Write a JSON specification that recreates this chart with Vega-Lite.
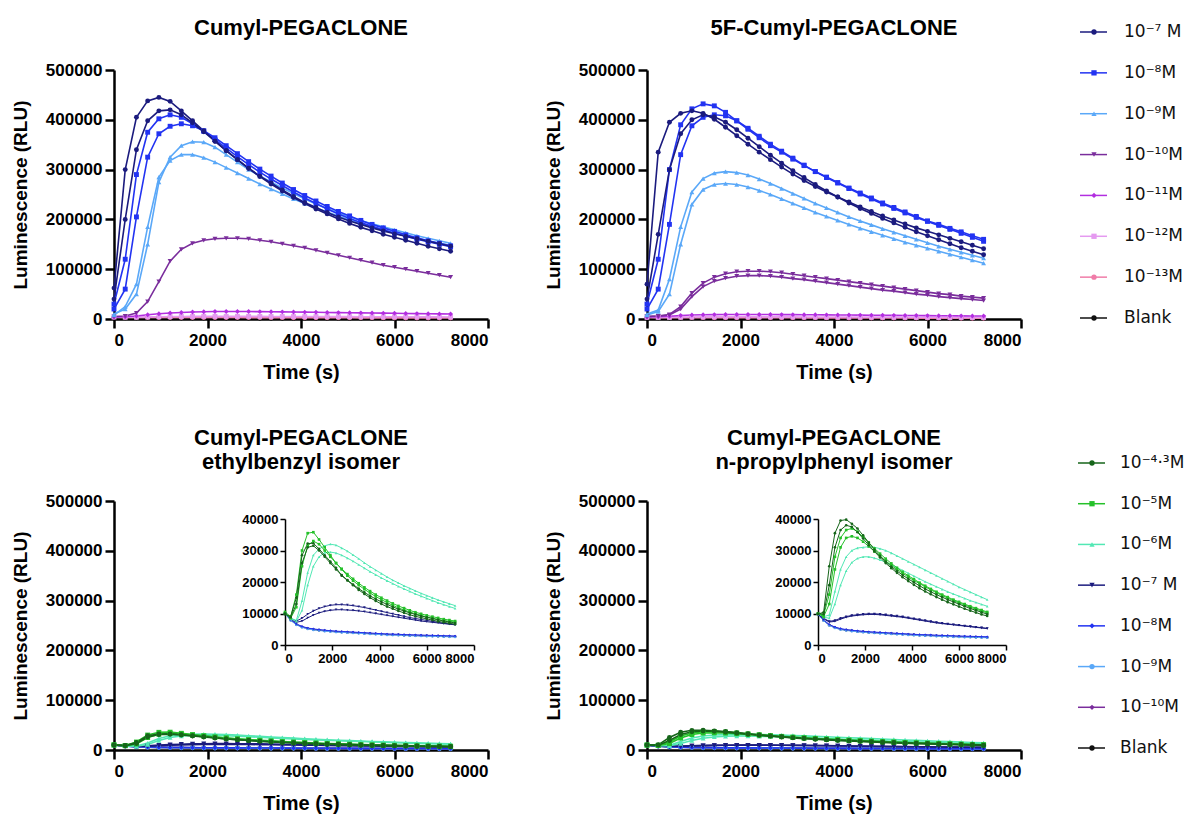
{
"$schema":"https://vega.github.io/schema/vega-lite/v6.json",
"background":"white",
"padding":{"left":11,"top":17,"right":5,"bottom":5},
"config":{
"view":{"stroke":null},
"font":"Liberation Sans",
"axis":{"grid":false,"domainColor":"#000","tickColor":"#000","labelColor":"#000","titleColor":"#000","labelFont":"Liberation Sans","titleFont":"Liberation Sans","labelFontWeight":"bold","titleFontWeight":"bold","labelFontSize":17,"titleFontSize":19,"domainWidth":2.5,"tickWidth":2.5,"tickSize":9,"labelPadding":3,"titlePadding":8},
"title":{"font":"Liberation Sans","fontSize":22,"fontWeight":"bold","color":"#000","anchor":"middle","frame":"group","offset":21,"lineHeight":24}
},
"datasets":{
"L1":[{"c":"7","o":1,"lab":"10⁻⁷ M"},{"c":"8","o":2,"lab":"10⁻⁸M"},{"c":"9","o":3,"lab":"10⁻⁹M"},{"c":"10","o":4,"lab":"10⁻¹⁰M"},{"c":"11","o":5,"lab":"10⁻¹¹M"},{"c":"12","o":6,"lab":"10⁻¹²M"},{"c":"13","o":7,"lab":"10⁻¹³M"},{"c":"0","o":8,"lab":"Blank"}],
"L2":[{"c":"4","o":1,"lab":"10⁻⁴·³M"},{"c":"5","o":2,"lab":"10⁻⁵M"},{"c":"6","o":3,"lab":"10⁻⁶M"},{"c":"7","o":4,"lab":"10⁻⁷ M"},{"c":"8","o":5,"lab":"10⁻⁸M"},{"c":"9","o":6,"lab":"10⁻⁹M"},{"c":"10","o":7,"lab":"10⁻¹⁰M"},{"c":"0","o":8,"lab":"Blank"}],
"A":[
{"c":"0","t":0,"v":3000},{"c":"0","t":240,"v":2600},{"c":"0","t":480,"v":2400},{"c":"0","t":720,"v":2300},{"c":"0","t":960,"v":2200},{"c":"0","t":1200,"v":2100},{"c":"0","t":1440,"v":2000},{"c":"0","t":1680,"v":1950},{"c":"0","t":1920,"v":1900},{"c":"0","t":2160,"v":1850},{"c":"0","t":2400,"v":1800},{"c":"0","t":2640,"v":1750},{"c":"0","t":2880,"v":1700},{"c":"0","t":3120,"v":1650},{"c":"0","t":3360,"v":1600},{"c":"0","t":3600,"v":1600},{"c":"0","t":3840,"v":1550},{"c":"0","t":4080,"v":1500},{"c":"0","t":4320,"v":1500},{"c":"0","t":4560,"v":1450},{"c":"0","t":4800,"v":1400},{"c":"0","t":5040,"v":1400},{"c":"0","t":5280,"v":1350},{"c":"0","t":5520,"v":1350},{"c":"0","t":5760,"v":1300},{"c":"0","t":6000,"v":1300},{"c":"0","t":6240,"v":1250},{"c":"0","t":6480,"v":1250},{"c":"0","t":6720,"v":1200},{"c":"0","t":6960,"v":1200},{"c":"0","t":7200,"v":1150},
{"c":"13","t":0,"v":3500},{"c":"13","t":240,"v":3200},{"c":"13","t":480,"v":3100},{"c":"13","t":720,"v":3100},{"c":"13","t":960,"v":3100},{"c":"13","t":1200,"v":3100},{"c":"13","t":1440,"v":3100},{"c":"13","t":1680,"v":3050},{"c":"13","t":1920,"v":3000},{"c":"13","t":2160,"v":3000},{"c":"13","t":2400,"v":2950},{"c":"13","t":2640,"v":2900},{"c":"13","t":2880,"v":2850},{"c":"13","t":3120,"v":2800},{"c":"13","t":3360,"v":2750},{"c":"13","t":3600,"v":2700},{"c":"13","t":3840,"v":2650},{"c":"13","t":4080,"v":2600},{"c":"13","t":4320,"v":2550},{"c":"13","t":4560,"v":2500},{"c":"13","t":4800,"v":2450},{"c":"13","t":5040,"v":2400},{"c":"13","t":5280,"v":2350},{"c":"13","t":5520,"v":2300},{"c":"13","t":5760,"v":2250},{"c":"13","t":6000,"v":2200},{"c":"13","t":6240,"v":2150},{"c":"13","t":6480,"v":2100},{"c":"13","t":6720,"v":2050},{"c":"13","t":6960,"v":2000},{"c":"13","t":7200,"v":1950},
{"c":"12","t":0,"v":4000},{"c":"12","t":240,"v":3700},{"c":"12","t":480,"v":3800},{"c":"12","t":720,"v":4200},{"c":"12","t":960,"v":4600},{"c":"12","t":1200,"v":4900},{"c":"12","t":1440,"v":5100},{"c":"12","t":1680,"v":5200},{"c":"12","t":1920,"v":5300},{"c":"12","t":2160,"v":5300},{"c":"12","t":2400,"v":5300},{"c":"12","t":2640,"v":5300},{"c":"12","t":2880,"v":5250},{"c":"12","t":3120,"v":5200},{"c":"12","t":3360,"v":5150},{"c":"12","t":3600,"v":5100},{"c":"12","t":3840,"v":5000},{"c":"12","t":4080,"v":4950},{"c":"12","t":4320,"v":4900},{"c":"12","t":4560,"v":4850},{"c":"12","t":4800,"v":4800},{"c":"12","t":5040,"v":4700},{"c":"12","t":5280,"v":4650},{"c":"12","t":5520,"v":4600},{"c":"12","t":5760,"v":4500},{"c":"12","t":6000,"v":4450},{"c":"12","t":6240,"v":4400},{"c":"12","t":6480,"v":4300},{"c":"12","t":6720,"v":4250},{"c":"12","t":6960,"v":4200},{"c":"12","t":7200,"v":4100},
{"c":"11","t":0,"v":4000},{"c":"11","t":240,"v":4500},{"c":"11","t":480,"v":6000},{"c":"11","t":720,"v":8500},{"c":"11","t":960,"v":10500},{"c":"11","t":1200,"v":12000},{"c":"11","t":1440,"v":13000},{"c":"11","t":1680,"v":14000},{"c":"11","t":1920,"v":14500},{"c":"11","t":2160,"v":15000},{"c":"11","t":2400,"v":15000},{"c":"11","t":2640,"v":15000},{"c":"11","t":2880,"v":15000},{"c":"11","t":3120,"v":14800},{"c":"11","t":3360,"v":14600},{"c":"11","t":3600,"v":14400},{"c":"11","t":3840,"v":14100},{"c":"11","t":4080,"v":13800},{"c":"11","t":4320,"v":13500},{"c":"11","t":4560,"v":13200},{"c":"11","t":4800,"v":12900},{"c":"11","t":5040,"v":12600},{"c":"11","t":5280,"v":12300},{"c":"11","t":5520,"v":12000},{"c":"11","t":5760,"v":11700},{"c":"11","t":6000,"v":11400},{"c":"11","t":6240,"v":11100},{"c":"11","t":6480,"v":10800},{"c":"11","t":6720,"v":10500},{"c":"11","t":6960,"v":10200},{"c":"11","t":7200,"v":10000},
{"c":"10","t":0,"v":5000},{"c":"10","t":240,"v":6000},{"c":"10","t":480,"v":12000},{"c":"10","t":720,"v":35000},{"c":"10","t":960,"v":75000},{"c":"10","t":1200,"v":116000},{"c":"10","t":1440,"v":140000},{"c":"10","t":1680,"v":152000},{"c":"10","t":1920,"v":158000},{"c":"10","t":2160,"v":161000},{"c":"10","t":2400,"v":162000},{"c":"10","t":2640,"v":162000},{"c":"10","t":2880,"v":161000},{"c":"10","t":3120,"v":158000},{"c":"10","t":3360,"v":155000},{"c":"10","t":3600,"v":151000},{"c":"10","t":3840,"v":147000},{"c":"10","t":4080,"v":143000},{"c":"10","t":4320,"v":138000},{"c":"10","t":4560,"v":133000},{"c":"10","t":4800,"v":128000},{"c":"10","t":5040,"v":123000},{"c":"10","t":5280,"v":118000},{"c":"10","t":5520,"v":113000},{"c":"10","t":5760,"v":108000},{"c":"10","t":6000,"v":104000},{"c":"10","t":6240,"v":100000},{"c":"10","t":6480,"v":96000},{"c":"10","t":6720,"v":92000},{"c":"10","t":6960,"v":88000},{"c":"10","t":7200,"v":84000},
{"c":"9b","t":0,"v":8000},{"c":"9b","t":240,"v":25000},{"c":"9b","t":480,"v":70000},{"c":"9b","t":720,"v":185000},{"c":"9b","t":960,"v":285000},{"c":"9b","t":1200,"v":318000},{"c":"9b","t":1440,"v":330000},{"c":"9b","t":1680,"v":330000},{"c":"9b","t":1920,"v":324000},{"c":"9b","t":2160,"v":315000},{"c":"9b","t":2400,"v":304000},{"c":"9b","t":2640,"v":293000},{"c":"9b","t":2880,"v":282000},{"c":"9b","t":3120,"v":271000},{"c":"9b","t":3360,"v":261000},{"c":"9b","t":3600,"v":251000},{"c":"9b","t":3840,"v":241000},{"c":"9b","t":4080,"v":232000},{"c":"9b","t":4320,"v":223000},{"c":"9b","t":4560,"v":215000},{"c":"9b","t":4800,"v":207000},{"c":"9b","t":5040,"v":199000},{"c":"9b","t":5280,"v":192000},{"c":"9b","t":5520,"v":185000},{"c":"9b","t":5760,"v":179000},{"c":"9b","t":6000,"v":173000},{"c":"9b","t":6240,"v":167000},{"c":"9b","t":6480,"v":162000},{"c":"9b","t":6720,"v":157000},{"c":"9b","t":6960,"v":152000},{"c":"9b","t":7200,"v":148000},
{"c":"9","t":0,"v":10000},{"c":"9","t":240,"v":20000},{"c":"9","t":480,"v":50000},{"c":"9","t":720,"v":150000},{"c":"9","t":960,"v":275000},{"c":"9","t":1200,"v":325000},{"c":"9","t":1440,"v":348000},{"c":"9","t":1680,"v":356000},{"c":"9","t":1920,"v":355000},{"c":"9","t":2160,"v":345000},{"c":"9","t":2400,"v":330000},{"c":"9","t":2640,"v":315000},{"c":"9","t":2880,"v":300000},{"c":"9","t":3120,"v":287000},{"c":"9","t":3360,"v":275000},{"c":"9","t":3600,"v":263000},{"c":"9","t":3840,"v":252000},{"c":"9","t":4080,"v":241000},{"c":"9","t":4320,"v":231000},{"c":"9","t":4560,"v":222000},{"c":"9","t":4800,"v":213000},{"c":"9","t":5040,"v":205000},{"c":"9","t":5280,"v":198000},{"c":"9","t":5520,"v":191000},{"c":"9","t":5760,"v":185000},{"c":"9","t":6000,"v":179000},{"c":"9","t":6240,"v":173000},{"c":"9","t":6480,"v":167000},{"c":"9","t":6720,"v":162000},{"c":"9","t":6960,"v":157000},{"c":"9","t":7200,"v":152000},
{"c":"8b","t":0,"v":20000},{"c":"8b","t":240,"v":60000},{"c":"8b","t":480,"v":205000},{"c":"8b","t":720,"v":325000},{"c":"8b","t":960,"v":372000},{"c":"8b","t":1200,"v":387000},{"c":"8b","t":1440,"v":392000},{"c":"8b","t":1680,"v":388000},{"c":"8b","t":1920,"v":378000},{"c":"8b","t":2160,"v":364000},{"c":"8b","t":2400,"v":348000},{"c":"8b","t":2640,"v":332000},{"c":"8b","t":2880,"v":316000},{"c":"8b","t":3120,"v":301000},{"c":"8b","t":3360,"v":287000},{"c":"8b","t":3600,"v":273000},{"c":"8b","t":3840,"v":260000},{"c":"8b","t":4080,"v":248000},{"c":"8b","t":4320,"v":237000},{"c":"8b","t":4560,"v":226000},{"c":"8b","t":4800,"v":216000},{"c":"8b","t":5040,"v":207000},{"c":"8b","t":5280,"v":198000},{"c":"8b","t":5520,"v":190000},{"c":"8b","t":5760,"v":183000},{"c":"8b","t":6000,"v":176000},{"c":"8b","t":6240,"v":169000},{"c":"8b","t":6480,"v":163000},{"c":"8b","t":6720,"v":157000},{"c":"8b","t":6960,"v":152000},{"c":"8b","t":7200,"v":147000},
{"c":"8","t":0,"v":30000},{"c":"8","t":240,"v":120000},{"c":"8","t":480,"v":290000},{"c":"8","t":720,"v":375000},{"c":"8","t":960,"v":402000},{"c":"8","t":1200,"v":410000},{"c":"8","t":1440,"v":405000},{"c":"8","t":1680,"v":392000},{"c":"8","t":1920,"v":377000},{"c":"8","t":2160,"v":360000},{"c":"8","t":2400,"v":343000},{"c":"8","t":2640,"v":326000},{"c":"8","t":2880,"v":310000},{"c":"8","t":3120,"v":295000},{"c":"8","t":3360,"v":281000},{"c":"8","t":3600,"v":268000},{"c":"8","t":3840,"v":255000},{"c":"8","t":4080,"v":243000},{"c":"8","t":4320,"v":232000},{"c":"8","t":4560,"v":221000},{"c":"8","t":4800,"v":211000},{"c":"8","t":5040,"v":202000},{"c":"8","t":5280,"v":194000},{"c":"8","t":5520,"v":186000},{"c":"8","t":5760,"v":179000},{"c":"8","t":6000,"v":172000},{"c":"8","t":6240,"v":166000},{"c":"8","t":6480,"v":160000},{"c":"8","t":6720,"v":155000},{"c":"8","t":6960,"v":150000},{"c":"8","t":7200,"v":145000},
{"c":"7b","t":0,"v":40000},{"c":"7b","t":240,"v":200000},{"c":"7b","t":480,"v":340000},{"c":"7b","t":720,"v":398000},{"c":"7b","t":960,"v":418000},{"c":"7b","t":1200,"v":420000},{"c":"7b","t":1440,"v":410000},{"c":"7b","t":1680,"v":394000},{"c":"7b","t":1920,"v":376000},{"c":"7b","t":2160,"v":357000},{"c":"7b","t":2400,"v":338000},{"c":"7b","t":2640,"v":320000},{"c":"7b","t":2880,"v":302000},{"c":"7b","t":3120,"v":286000},{"c":"7b","t":3360,"v":271000},{"c":"7b","t":3600,"v":257000},{"c":"7b","t":3840,"v":244000},{"c":"7b","t":4080,"v":232000},{"c":"7b","t":4320,"v":221000},{"c":"7b","t":4560,"v":211000},{"c":"7b","t":4800,"v":201000},{"c":"7b","t":5040,"v":192000},{"c":"7b","t":5280,"v":184000},{"c":"7b","t":5520,"v":177000},{"c":"7b","t":5760,"v":170000},{"c":"7b","t":6000,"v":164000},{"c":"7b","t":6240,"v":158000},{"c":"7b","t":6480,"v":152000},{"c":"7b","t":6720,"v":146000},{"c":"7b","t":6960,"v":141000},{"c":"7b","t":7200,"v":136000},
{"c":"7","t":0,"v":62000},{"c":"7","t":240,"v":300000},{"c":"7","t":480,"v":405000},{"c":"7","t":720,"v":438000},{"c":"7","t":960,"v":445000},{"c":"7","t":1200,"v":437000},{"c":"7","t":1440,"v":418000},{"c":"7","t":1680,"v":398000},{"c":"7","t":1920,"v":378000},{"c":"7","t":2160,"v":357000},{"c":"7","t":2400,"v":338000},{"c":"7","t":2640,"v":320000},{"c":"7","t":2880,"v":303000},{"c":"7","t":3120,"v":287000},{"c":"7","t":3360,"v":273000},{"c":"7","t":3600,"v":259000},{"c":"7","t":3840,"v":246000},{"c":"7","t":4080,"v":234000},{"c":"7","t":4320,"v":224000},{"c":"7","t":4560,"v":214000},{"c":"7","t":4800,"v":205000},{"c":"7","t":5040,"v":197000},{"c":"7","t":5280,"v":190000},{"c":"7","t":5520,"v":183000},{"c":"7","t":5760,"v":177000},{"c":"7","t":6000,"v":171000},{"c":"7","t":6240,"v":166000},{"c":"7","t":6480,"v":161000},{"c":"7","t":6720,"v":156000},{"c":"7","t":6960,"v":151000},{"c":"7","t":7200,"v":146000}
],
"B":[
{"c":"0","t":0,"v":2500},{"c":"0","t":240,"v":2200},{"c":"0","t":480,"v":2000},{"c":"0","t":720,"v":1900},{"c":"0","t":960,"v":1800},{"c":"0","t":1200,"v":1750},{"c":"0","t":1440,"v":1700},{"c":"0","t":1680,"v":1650},{"c":"0","t":1920,"v":1600},{"c":"0","t":2160,"v":1550},{"c":"0","t":2400,"v":1500},{"c":"0","t":2640,"v":1450},{"c":"0","t":2880,"v":1400},{"c":"0","t":3120,"v":1400},{"c":"0","t":3360,"v":1350},{"c":"0","t":3600,"v":1300},{"c":"0","t":3840,"v":1300},{"c":"0","t":4080,"v":1250},{"c":"0","t":4320,"v":1250},{"c":"0","t":4560,"v":1200},{"c":"0","t":4800,"v":1200},{"c":"0","t":5040,"v":1150},{"c":"0","t":5280,"v":1150},{"c":"0","t":5520,"v":1100},{"c":"0","t":5760,"v":1100},{"c":"0","t":6000,"v":1050},{"c":"0","t":6240,"v":1050},{"c":"0","t":6480,"v":1000},{"c":"0","t":6720,"v":1000},{"c":"0","t":6960,"v":1000},{"c":"0","t":7200,"v":950},
{"c":"13","t":0,"v":3000},{"c":"13","t":240,"v":2800},{"c":"13","t":480,"v":2700},{"c":"13","t":720,"v":2700},{"c":"13","t":960,"v":2700},{"c":"13","t":1200,"v":2700},{"c":"13","t":1440,"v":2650},{"c":"13","t":1680,"v":2650},{"c":"13","t":1920,"v":2600},{"c":"13","t":2160,"v":2600},{"c":"13","t":2400,"v":2550},{"c":"13","t":2640,"v":2500},{"c":"13","t":2880,"v":2450},{"c":"13","t":3120,"v":2400},{"c":"13","t":3360,"v":2350},{"c":"13","t":3600,"v":2300},{"c":"13","t":3840,"v":2250},{"c":"13","t":4080,"v":2200},{"c":"13","t":4320,"v":2150},{"c":"13","t":4560,"v":2100},{"c":"13","t":4800,"v":2050},{"c":"13","t":5040,"v":2000},{"c":"13","t":5280,"v":1950},{"c":"13","t":5520,"v":1900},{"c":"13","t":5760,"v":1850},{"c":"13","t":6000,"v":1800},{"c":"13","t":6240,"v":1750},{"c":"13","t":6480,"v":1700},{"c":"13","t":6720,"v":1650},{"c":"13","t":6960,"v":1600},{"c":"13","t":7200,"v":1550},
{"c":"12","t":0,"v":3500},{"c":"12","t":240,"v":3300},{"c":"12","t":480,"v":3400},{"c":"12","t":720,"v":3700},{"c":"12","t":960,"v":4000},{"c":"12","t":1200,"v":4200},{"c":"12","t":1440,"v":4300},{"c":"12","t":1680,"v":4400},{"c":"12","t":1920,"v":4400},{"c":"12","t":2160,"v":4400},{"c":"12","t":2400,"v":4350},{"c":"12","t":2640,"v":4300},{"c":"12","t":2880,"v":4250},{"c":"12","t":3120,"v":4200},{"c":"12","t":3360,"v":4150},{"c":"12","t":3600,"v":4100},{"c":"12","t":3840,"v":4000},{"c":"12","t":4080,"v":3950},{"c":"12","t":4320,"v":3900},{"c":"12","t":4560,"v":3850},{"c":"12","t":4800,"v":3800},{"c":"12","t":5040,"v":3700},{"c":"12","t":5280,"v":3650},{"c":"12","t":5520,"v":3600},{"c":"12","t":5760,"v":3500},{"c":"12","t":6000,"v":3450},{"c":"12","t":6240,"v":3400},{"c":"12","t":6480,"v":3300},{"c":"12","t":6720,"v":3250},{"c":"12","t":6960,"v":3200},{"c":"12","t":7200,"v":3100},
{"c":"11","t":0,"v":4000},{"c":"11","t":240,"v":4500},{"c":"11","t":480,"v":5500},{"c":"11","t":720,"v":7000},{"c":"11","t":960,"v":8000},{"c":"11","t":1200,"v":8500},{"c":"11","t":1440,"v":8800},{"c":"11","t":1680,"v":9000},{"c":"11","t":1920,"v":9100},{"c":"11","t":2160,"v":9100},{"c":"11","t":2400,"v":9000},{"c":"11","t":2640,"v":8900},{"c":"11","t":2880,"v":8800},{"c":"11","t":3120,"v":8700},{"c":"11","t":3360,"v":8600},{"c":"11","t":3600,"v":8400},{"c":"11","t":3840,"v":8300},{"c":"11","t":4080,"v":8100},{"c":"11","t":4320,"v":8000},{"c":"11","t":4560,"v":7800},{"c":"11","t":4800,"v":7600},{"c":"11","t":5040,"v":7500},{"c":"11","t":5280,"v":7300},{"c":"11","t":5520,"v":7100},{"c":"11","t":5760,"v":7000},{"c":"11","t":6000,"v":6800},{"c":"11","t":6240,"v":6600},{"c":"11","t":6480,"v":6500},{"c":"11","t":6720,"v":6300},{"c":"11","t":6960,"v":6100},{"c":"11","t":7200,"v":6000},
{"c":"10b","t":0,"v":5000},{"c":"10b","t":240,"v":6000},{"c":"10b","t":480,"v":8000},{"c":"10b","t":720,"v":20000},{"c":"10b","t":960,"v":45000},{"c":"10b","t":1200,"v":65000},{"c":"10b","t":1440,"v":76000},{"c":"10b","t":1680,"v":82000},{"c":"10b","t":1920,"v":86000},{"c":"10b","t":2160,"v":87000},{"c":"10b","t":2400,"v":87000},{"c":"10b","t":2640,"v":86000},{"c":"10b","t":2880,"v":84000},{"c":"10b","t":3120,"v":81000},{"c":"10b","t":3360,"v":79000},{"c":"10b","t":3600,"v":76000},{"c":"10b","t":3840,"v":73000},{"c":"10b","t":4080,"v":70000},{"c":"10b","t":4320,"v":67000},{"c":"10b","t":4560,"v":64000},{"c":"10b","t":4800,"v":61000},{"c":"10b","t":5040,"v":58000},{"c":"10b","t":5280,"v":56000},{"c":"10b","t":5520,"v":53000},{"c":"10b","t":5760,"v":50000},{"c":"10b","t":6000,"v":48000},{"c":"10b","t":6240,"v":45000},{"c":"10b","t":6480,"v":43000},{"c":"10b","t":6720,"v":41000},{"c":"10b","t":6960,"v":39000},{"c":"10b","t":7200,"v":37000},
{"c":"10","t":0,"v":5000},{"c":"10","t":240,"v":6000},{"c":"10","t":480,"v":9000},{"c":"10","t":720,"v":25000},{"c":"10","t":960,"v":52000},{"c":"10","t":1200,"v":72000},{"c":"10","t":1440,"v":84000},{"c":"10","t":1680,"v":91000},{"c":"10","t":1920,"v":95000},{"c":"10","t":2160,"v":96000},{"c":"10","t":2400,"v":96000},{"c":"10","t":2640,"v":95000},{"c":"10","t":2880,"v":93000},{"c":"10","t":3120,"v":90000},{"c":"10","t":3360,"v":87000},{"c":"10","t":3600,"v":84000},{"c":"10","t":3840,"v":81000},{"c":"10","t":4080,"v":78000},{"c":"10","t":4320,"v":75000},{"c":"10","t":4560,"v":72000},{"c":"10","t":4800,"v":69000},{"c":"10","t":5040,"v":66000},{"c":"10","t":5280,"v":63000},{"c":"10","t":5520,"v":60000},{"c":"10","t":5760,"v":57000},{"c":"10","t":6000,"v":54000},{"c":"10","t":6240,"v":51000},{"c":"10","t":6480,"v":49000},{"c":"10","t":6720,"v":46000},{"c":"10","t":6960,"v":44000},{"c":"10","t":7200,"v":42000},
{"c":"9b","t":0,"v":8000},{"c":"9b","t":240,"v":15000},{"c":"9b","t":480,"v":50000},{"c":"9b","t":720,"v":150000},{"c":"9b","t":960,"v":230000},{"c":"9b","t":1200,"v":260000},{"c":"9b","t":1440,"v":270000},{"c":"9b","t":1680,"v":272000},{"c":"9b","t":1920,"v":270000},{"c":"9b","t":2160,"v":265000},{"c":"9b","t":2400,"v":258000},{"c":"9b","t":2640,"v":250000},{"c":"9b","t":2880,"v":241000},{"c":"9b","t":3120,"v":232000},{"c":"9b","t":3360,"v":223000},{"c":"9b","t":3600,"v":214000},{"c":"9b","t":3840,"v":206000},{"c":"9b","t":4080,"v":198000},{"c":"9b","t":4320,"v":190000},{"c":"9b","t":4560,"v":182000},{"c":"9b","t":4800,"v":175000},{"c":"9b","t":5040,"v":168000},{"c":"9b","t":5280,"v":161000},{"c":"9b","t":5520,"v":154000},{"c":"9b","t":5760,"v":148000},{"c":"9b","t":6000,"v":142000},{"c":"9b","t":6240,"v":136000},{"c":"9b","t":6480,"v":130000},{"c":"9b","t":6720,"v":124000},{"c":"9b","t":6960,"v":118000},{"c":"9b","t":7200,"v":112000},
{"c":"9","t":0,"v":10000},{"c":"9","t":240,"v":18000},{"c":"9","t":480,"v":80000},{"c":"9","t":720,"v":185000},{"c":"9","t":960,"v":255000},{"c":"9","t":1200,"v":282000},{"c":"9","t":1440,"v":293000},{"c":"9","t":1680,"v":296000},{"c":"9","t":1920,"v":294000},{"c":"9","t":2160,"v":289000},{"c":"9","t":2400,"v":281000},{"c":"9","t":2640,"v":272000},{"c":"9","t":2880,"v":262000},{"c":"9","t":3120,"v":252000},{"c":"9","t":3360,"v":242000},{"c":"9","t":3600,"v":232000},{"c":"9","t":3840,"v":223000},{"c":"9","t":4080,"v":214000},{"c":"9","t":4320,"v":205000},{"c":"9","t":4560,"v":197000},{"c":"9","t":4800,"v":189000},{"c":"9","t":5040,"v":181000},{"c":"9","t":5280,"v":174000},{"c":"9","t":5520,"v":167000},{"c":"9","t":5760,"v":160000},{"c":"9","t":6000,"v":153000},{"c":"9","t":6240,"v":146000},{"c":"9","t":6480,"v":140000},{"c":"9","t":6720,"v":134000},{"c":"9","t":6960,"v":128000},{"c":"9","t":7200,"v":122000},
{"c":"8b","t":0,"v":20000},{"c":"8b","t":240,"v":60000},{"c":"8b","t":480,"v":190000},{"c":"8b","t":720,"v":330000},{"c":"8b","t":960,"v":388000},{"c":"8b","t":1200,"v":405000},{"c":"8b","t":1440,"v":410000},{"c":"8b","t":1680,"v":408000},{"c":"8b","t":1920,"v":398000},{"c":"8b","t":2160,"v":383000},{"c":"8b","t":2400,"v":367000},{"c":"8b","t":2640,"v":351000},{"c":"8b","t":2880,"v":337000},{"c":"8b","t":3120,"v":323000},{"c":"8b","t":3360,"v":309000},{"c":"8b","t":3600,"v":296000},{"c":"8b","t":3840,"v":284000},{"c":"8b","t":4080,"v":273000},{"c":"8b","t":4320,"v":262000},{"c":"8b","t":4560,"v":251000},{"c":"8b","t":4800,"v":241000},{"c":"8b","t":5040,"v":231000},{"c":"8b","t":5280,"v":222000},{"c":"8b","t":5520,"v":213000},{"c":"8b","t":5760,"v":204000},{"c":"8b","t":6000,"v":196000},{"c":"8b","t":6240,"v":188000},{"c":"8b","t":6480,"v":180000},{"c":"8b","t":6720,"v":172000},{"c":"8b","t":6960,"v":164000},{"c":"8b","t":7200,"v":156000},
{"c":"8","t":0,"v":30000},{"c":"8","t":240,"v":120000},{"c":"8","t":480,"v":300000},{"c":"8","t":720,"v":390000},{"c":"8","t":960,"v":422000},{"c":"8","t":1200,"v":432000},{"c":"8","t":1440,"v":428000},{"c":"8","t":1680,"v":415000},{"c":"8","t":1920,"v":398000},{"c":"8","t":2160,"v":381000},{"c":"8","t":2400,"v":364000},{"c":"8","t":2640,"v":348000},{"c":"8","t":2880,"v":335000},{"c":"8","t":3120,"v":321000},{"c":"8","t":3360,"v":308000},{"c":"8","t":3600,"v":296000},{"c":"8","t":3840,"v":285000},{"c":"8","t":4080,"v":274000},{"c":"8","t":4320,"v":263000},{"c":"8","t":4560,"v":253000},{"c":"8","t":4800,"v":243000},{"c":"8","t":5040,"v":233000},{"c":"8","t":5280,"v":224000},{"c":"8","t":5520,"v":215000},{"c":"8","t":5760,"v":206000},{"c":"8","t":6000,"v":197000},{"c":"8","t":6240,"v":190000},{"c":"8","t":6480,"v":182000},{"c":"8","t":6720,"v":175000},{"c":"8","t":6960,"v":167000},{"c":"8","t":7200,"v":160000},
{"c":"7b","t":0,"v":40000},{"c":"7b","t":240,"v":170000},{"c":"7b","t":480,"v":300000},{"c":"7b","t":720,"v":372000},{"c":"7b","t":960,"v":400000},{"c":"7b","t":1200,"v":410000},{"c":"7b","t":1440,"v":406000},{"c":"7b","t":1680,"v":395000},{"c":"7b","t":1920,"v":380000},{"c":"7b","t":2160,"v":363000},{"c":"7b","t":2400,"v":346000},{"c":"7b","t":2640,"v":329000},{"c":"7b","t":2880,"v":313000},{"c":"7b","t":3120,"v":298000},{"c":"7b","t":3360,"v":284000},{"c":"7b","t":3600,"v":270000},{"c":"7b","t":3840,"v":257000},{"c":"7b","t":4080,"v":245000},{"c":"7b","t":4320,"v":233000},{"c":"7b","t":4560,"v":222000},{"c":"7b","t":4800,"v":212000},{"c":"7b","t":5040,"v":202000},{"c":"7b","t":5280,"v":193000},{"c":"7b","t":5520,"v":184000},{"c":"7b","t":5760,"v":175000},{"c":"7b","t":6000,"v":167000},{"c":"7b","t":6240,"v":159000},{"c":"7b","t":6480,"v":151000},{"c":"7b","t":6720,"v":143000},{"c":"7b","t":6960,"v":136000},{"c":"7b","t":7200,"v":129000},
{"c":"7","t":0,"v":70000},{"c":"7","t":240,"v":335000},{"c":"7","t":480,"v":395000},{"c":"7","t":720,"v":413000},{"c":"7","t":960,"v":418000},{"c":"7","t":1200,"v":413000},{"c":"7","t":1440,"v":401000},{"c":"7","t":1680,"v":385000},{"c":"7","t":1920,"v":368000},{"c":"7","t":2160,"v":351000},{"c":"7","t":2400,"v":335000},{"c":"7","t":2640,"v":320000},{"c":"7","t":2880,"v":305000},{"c":"7","t":3120,"v":291000},{"c":"7","t":3360,"v":278000},{"c":"7","t":3600,"v":266000},{"c":"7","t":3840,"v":255000},{"c":"7","t":4080,"v":245000},{"c":"7","t":4320,"v":235000},{"c":"7","t":4560,"v":225000},{"c":"7","t":4800,"v":216000},{"c":"7","t":5040,"v":207000},{"c":"7","t":5280,"v":199000},{"c":"7","t":5520,"v":191000},{"c":"7","t":5760,"v":183000},{"c":"7","t":6000,"v":176000},{"c":"7","t":6240,"v":169000},{"c":"7","t":6480,"v":162000},{"c":"7","t":6720,"v":155000},{"c":"7","t":6960,"v":148000},{"c":"7","t":7200,"v":141000}
],
"C":[
{"c":"0","t":0,"v":10000},{"c":"0","t":240,"v":7900},{"c":"0","t":480,"v":6500},{"c":"0","t":720,"v":5700},{"c":"0","t":960,"v":5200},{"c":"0","t":1200,"v":4900},{"c":"0","t":1440,"v":4700},{"c":"0","t":1680,"v":4500},{"c":"0","t":1920,"v":4350},{"c":"0","t":2160,"v":4200},{"c":"0","t":2400,"v":4100},{"c":"0","t":2640,"v":4000},{"c":"0","t":2880,"v":3900},{"c":"0","t":3120,"v":3800},{"c":"0","t":3360,"v":3700},{"c":"0","t":3600,"v":3600},{"c":"0","t":3840,"v":3500},{"c":"0","t":4080,"v":3400},{"c":"0","t":4320,"v":3300},{"c":"0","t":4560,"v":3250},{"c":"0","t":4800,"v":3200},{"c":"0","t":5040,"v":3100},{"c":"0","t":5280,"v":3050},{"c":"0","t":5520,"v":3000},{"c":"0","t":5760,"v":2950},{"c":"0","t":6000,"v":2900},{"c":"0","t":6240,"v":2850},{"c":"0","t":6480,"v":2800},{"c":"0","t":6720,"v":2750},{"c":"0","t":6960,"v":2700},{"c":"0","t":7200,"v":2650},
{"c":"10","t":0,"v":10100},{"c":"10","t":240,"v":8000},{"c":"10","t":480,"v":6600},{"c":"10","t":720,"v":5800},{"c":"10","t":960,"v":5300},{"c":"10","t":1200,"v":5000},{"c":"10","t":1440,"v":4800},{"c":"10","t":1680,"v":4600},{"c":"10","t":1920,"v":4450},{"c":"10","t":2160,"v":4300},{"c":"10","t":2400,"v":4200},{"c":"10","t":2640,"v":4100},{"c":"10","t":2880,"v":4000},{"c":"10","t":3120,"v":3900},{"c":"10","t":3360,"v":3800},{"c":"10","t":3600,"v":3700},{"c":"10","t":3840,"v":3600},{"c":"10","t":4080,"v":3500},{"c":"10","t":4320,"v":3400},{"c":"10","t":4560,"v":3350},{"c":"10","t":4800,"v":3300},{"c":"10","t":5040,"v":3200},{"c":"10","t":5280,"v":3150},{"c":"10","t":5520,"v":3100},{"c":"10","t":5760,"v":3050},{"c":"10","t":6000,"v":3000},{"c":"10","t":6240,"v":2950},{"c":"10","t":6480,"v":2900},{"c":"10","t":6720,"v":2850},{"c":"10","t":6960,"v":2800},{"c":"10","t":7200,"v":2750},
{"c":"9","t":0,"v":9900},{"c":"9","t":240,"v":7800},{"c":"9","t":480,"v":6400},{"c":"9","t":720,"v":5600},{"c":"9","t":960,"v":5100},{"c":"9","t":1200,"v":4800},{"c":"9","t":1440,"v":4600},{"c":"9","t":1680,"v":4400},{"c":"9","t":1920,"v":4250},{"c":"9","t":2160,"v":4100},{"c":"9","t":2400,"v":4000},{"c":"9","t":2640,"v":3900},{"c":"9","t":2880,"v":3800},{"c":"9","t":3120,"v":3700},{"c":"9","t":3360,"v":3600},{"c":"9","t":3600,"v":3500},{"c":"9","t":3840,"v":3400},{"c":"9","t":4080,"v":3300},{"c":"9","t":4320,"v":3200},{"c":"9","t":4560,"v":3150},{"c":"9","t":4800,"v":3100},{"c":"9","t":5040,"v":3000},{"c":"9","t":5280,"v":2950},{"c":"9","t":5520,"v":2900},{"c":"9","t":5760,"v":2850},{"c":"9","t":6000,"v":2800},{"c":"9","t":6240,"v":2750},{"c":"9","t":6480,"v":2700},{"c":"9","t":6720,"v":2650},{"c":"9","t":6960,"v":2600},{"c":"9","t":7200,"v":2550},
{"c":"8","t":0,"v":10000},{"c":"8","t":240,"v":8100},{"c":"8","t":480,"v":6700},{"c":"8","t":720,"v":5900},{"c":"8","t":960,"v":5400},{"c":"8","t":1200,"v":5100},{"c":"8","t":1440,"v":4900},{"c":"8","t":1680,"v":4700},{"c":"8","t":1920,"v":4550},{"c":"8","t":2160,"v":4400},{"c":"8","t":2400,"v":4300},{"c":"8","t":2640,"v":4200},{"c":"8","t":2880,"v":4100},{"c":"8","t":3120,"v":4000},{"c":"8","t":3360,"v":3900},{"c":"8","t":3600,"v":3800},{"c":"8","t":3840,"v":3700},{"c":"8","t":4080,"v":3600},{"c":"8","t":4320,"v":3500},{"c":"8","t":4560,"v":3450},{"c":"8","t":4800,"v":3400},{"c":"8","t":5040,"v":3300},{"c":"8","t":5280,"v":3250},{"c":"8","t":5520,"v":3200},{"c":"8","t":5760,"v":3150},{"c":"8","t":6000,"v":3100},{"c":"8","t":6240,"v":3050},{"c":"8","t":6480,"v":3000},{"c":"8","t":6720,"v":2950},{"c":"8","t":6960,"v":2900},{"c":"8","t":7200,"v":2850},
{"c":"7b","t":0,"v":10000},{"c":"7b","t":240,"v":8200},{"c":"7b","t":480,"v":7200},{"c":"7b","t":720,"v":7600},{"c":"7b","t":960,"v":8600},{"c":"7b","t":1200,"v":9500},{"c":"7b","t":1440,"v":10200},{"c":"7b","t":1680,"v":10700},{"c":"7b","t":1920,"v":11000},{"c":"7b","t":2160,"v":11200},{"c":"7b","t":2400,"v":11200},{"c":"7b","t":2640,"v":11100},{"c":"7b","t":2880,"v":11000},{"c":"7b","t":3120,"v":10800},{"c":"7b","t":3360,"v":10600},{"c":"7b","t":3600,"v":10300},{"c":"7b","t":3840,"v":10000},{"c":"7b","t":4080,"v":9700},{"c":"7b","t":4320,"v":9400},{"c":"7b","t":4560,"v":9100},{"c":"7b","t":4800,"v":8800},{"c":"7b","t":5040,"v":8500},{"c":"7b","t":5280,"v":8200},{"c":"7b","t":5520,"v":7900},{"c":"7b","t":5760,"v":7600},{"c":"7b","t":6000,"v":7400},{"c":"7b","t":6240,"v":7200},{"c":"7b","t":6480,"v":7000},{"c":"7b","t":6720,"v":6800},{"c":"7b","t":6960,"v":6600},{"c":"7b","t":7200,"v":6400},
{"c":"7","t":0,"v":10000},{"c":"7","t":240,"v":8500},{"c":"7","t":480,"v":7600},{"c":"7","t":720,"v":8500},{"c":"7","t":960,"v":9800},{"c":"7","t":1200,"v":10800},{"c":"7","t":1440,"v":11600},{"c":"7","t":1680,"v":12200},{"c":"7","t":1920,"v":12600},{"c":"7","t":2160,"v":12800},{"c":"7","t":2400,"v":12800},{"c":"7","t":2640,"v":12700},{"c":"7","t":2880,"v":12500},{"c":"7","t":3120,"v":12200},{"c":"7","t":3360,"v":11900},{"c":"7","t":3600,"v":11500},{"c":"7","t":3840,"v":11100},{"c":"7","t":4080,"v":10700},{"c":"7","t":4320,"v":10300},{"c":"7","t":4560,"v":9900},{"c":"7","t":4800,"v":9500},{"c":"7","t":5040,"v":9100},{"c":"7","t":5280,"v":8700},{"c":"7","t":5520,"v":8400},{"c":"7","t":5760,"v":8100},{"c":"7","t":6000,"v":7800},{"c":"7","t":6240,"v":7500},{"c":"7","t":6480,"v":7200},{"c":"7","t":6720,"v":6900},{"c":"7","t":6960,"v":6700},{"c":"7","t":7200,"v":6500},
{"c":"6b","t":0,"v":10000},{"c":"6b","t":240,"v":8300},{"c":"6b","t":480,"v":7500},{"c":"6b","t":720,"v":11000},{"c":"6b","t":960,"v":19000},{"c":"6b","t":1200,"v":25000},{"c":"6b","t":1440,"v":28000},{"c":"6b","t":1680,"v":29300},{"c":"6b","t":1920,"v":29500},{"c":"6b","t":2160,"v":29200},{"c":"6b","t":2400,"v":28500},{"c":"6b","t":2640,"v":27600},{"c":"6b","t":2880,"v":26600},{"c":"6b","t":3120,"v":25500},{"c":"6b","t":3360,"v":24400},{"c":"6b","t":3600,"v":23300},{"c":"6b","t":3840,"v":22300},{"c":"6b","t":4080,"v":21300},{"c":"6b","t":4320,"v":20400},{"c":"6b","t":4560,"v":19500},{"c":"6b","t":4800,"v":18600},{"c":"6b","t":5040,"v":17800},{"c":"6b","t":5280,"v":17000},{"c":"6b","t":5520,"v":16200},{"c":"6b","t":5760,"v":15500},{"c":"6b","t":6000,"v":14800},{"c":"6b","t":6240,"v":14100},{"c":"6b","t":6480,"v":13400},{"c":"6b","t":6720,"v":12800},{"c":"6b","t":6960,"v":12200},{"c":"6b","t":7200,"v":11600},
{"c":"6","t":0,"v":10000},{"c":"6","t":240,"v":8500},{"c":"6","t":480,"v":7800},{"c":"6","t":720,"v":14000},{"c":"6","t":960,"v":23000},{"c":"6","t":1200,"v":28500},{"c":"6","t":1440,"v":30500},{"c":"6","t":1680,"v":31500},{"c":"6","t":1920,"v":32000},{"c":"6","t":2160,"v":31700},{"c":"6","t":2400,"v":30800},{"c":"6","t":2640,"v":29800},{"c":"6","t":2880,"v":28600},{"c":"6","t":3120,"v":27400},{"c":"6","t":3360,"v":26100},{"c":"6","t":3600,"v":24900},{"c":"6","t":3840,"v":23800},{"c":"6","t":4080,"v":22700},{"c":"6","t":4320,"v":21600},{"c":"6","t":4560,"v":20600},{"c":"6","t":4800,"v":19700},{"c":"6","t":5040,"v":18800},{"c":"6","t":5280,"v":18000},{"c":"6","t":5520,"v":17200},{"c":"6","t":5760,"v":16400},{"c":"6","t":6000,"v":15700},{"c":"6","t":6240,"v":15000},{"c":"6","t":6480,"v":14300},{"c":"6","t":6720,"v":13700},{"c":"6","t":6960,"v":13100},{"c":"6","t":7200,"v":12500},
{"c":"5b","t":0,"v":10000},{"c":"5b","t":240,"v":8500},{"c":"5b","t":480,"v":12000},{"c":"5b","t":720,"v":25000},{"c":"5b","t":960,"v":31500},{"c":"5b","t":1200,"v":33000},{"c":"5b","t":1440,"v":32000},{"c":"5b","t":1680,"v":30000},{"c":"5b","t":1920,"v":28000},{"c":"5b","t":2160,"v":26000},{"c":"5b","t":2400,"v":24200},{"c":"5b","t":2640,"v":22500},{"c":"5b","t":2880,"v":21000},{"c":"5b","t":3120,"v":19600},{"c":"5b","t":3360,"v":18300},{"c":"5b","t":3600,"v":17100},{"c":"5b","t":3840,"v":16000},{"c":"5b","t":4080,"v":15000},{"c":"5b","t":4320,"v":14100},{"c":"5b","t":4560,"v":13200},{"c":"5b","t":4800,"v":12400},{"c":"5b","t":5040,"v":11700},{"c":"5b","t":5280,"v":11000},{"c":"5b","t":5520,"v":10400},{"c":"5b","t":5760,"v":9900},{"c":"5b","t":6000,"v":9400},{"c":"5b","t":6240,"v":9000},{"c":"5b","t":6480,"v":8600},{"c":"5b","t":6720,"v":8200},{"c":"5b","t":6960,"v":7900},{"c":"5b","t":7200,"v":7600},
{"c":"5","t":0,"v":10500},{"c":"5","t":240,"v":9000},{"c":"5","t":480,"v":16000},{"c":"5","t":720,"v":30000},{"c":"5","t":960,"v":35500},{"c":"5","t":1200,"v":35800},{"c":"5","t":1440,"v":33500},{"c":"5","t":1680,"v":31000},{"c":"5","t":1920,"v":28500},{"c":"5","t":2160,"v":26000},{"c":"5","t":2400,"v":24000},{"c":"5","t":2640,"v":22000},{"c":"5","t":2880,"v":20400},{"c":"5","t":3120,"v":19000},{"c":"5","t":3360,"v":17700},{"c":"5","t":3600,"v":16500},{"c":"5","t":3840,"v":15400},{"c":"5","t":4080,"v":14400},{"c":"5","t":4320,"v":13500},{"c":"5","t":4560,"v":12600},{"c":"5","t":4800,"v":11800},{"c":"5","t":5040,"v":11100},{"c":"5","t":5280,"v":10500},{"c":"5","t":5520,"v":9900},{"c":"5","t":5760,"v":9400},{"c":"5","t":6000,"v":8900},{"c":"5","t":6240,"v":8500},{"c":"5","t":6480,"v":8100},{"c":"5","t":6720,"v":7800},{"c":"5","t":6960,"v":7500},{"c":"5","t":7200,"v":7300},
{"c":"4b","t":0,"v":10000},{"c":"4b","t":240,"v":8800},{"c":"4b","t":480,"v":13000},{"c":"4b","t":720,"v":26000},{"c":"4b","t":960,"v":31000},{"c":"4b","t":1200,"v":31500},{"c":"4b","t":1440,"v":30000},{"c":"4b","t":1680,"v":28000},{"c":"4b","t":1920,"v":26000},{"c":"4b","t":2160,"v":24000},{"c":"4b","t":2400,"v":22200},{"c":"4b","t":2640,"v":20600},{"c":"4b","t":2880,"v":19200},{"c":"4b","t":3120,"v":17900},{"c":"4b","t":3360,"v":16700},{"c":"4b","t":3600,"v":15600},{"c":"4b","t":3840,"v":14600},{"c":"4b","t":4080,"v":13700},{"c":"4b","t":4320,"v":12900},{"c":"4b","t":4560,"v":12100},{"c":"4b","t":4800,"v":11400},{"c":"4b","t":5040,"v":10800},{"c":"4b","t":5280,"v":10200},{"c":"4b","t":5520,"v":9700},{"c":"4b","t":5760,"v":9200},{"c":"4b","t":6000,"v":8800},{"c":"4b","t":6240,"v":8400},{"c":"4b","t":6480,"v":8000},{"c":"4b","t":6720,"v":7600},{"c":"4b","t":6960,"v":7300},{"c":"4b","t":7200,"v":7000},
{"c":"4","t":0,"v":9800},{"c":"4","t":240,"v":9000},{"c":"4","t":480,"v":15000},{"c":"4","t":720,"v":28500},{"c":"4","t":960,"v":32200},{"c":"4","t":1200,"v":32300},{"c":"4","t":1440,"v":30500},{"c":"4","t":1680,"v":28500},{"c":"4","t":1920,"v":26500},{"c":"4","t":2160,"v":24500},{"c":"4","t":2400,"v":22000},{"c":"4","t":2640,"v":20500},{"c":"4","t":2880,"v":19000},{"c":"4","t":3120,"v":17500},{"c":"4","t":3360,"v":16200},{"c":"4","t":3600,"v":15000},{"c":"4","t":3840,"v":14000},{"c":"4","t":4080,"v":13000},{"c":"4","t":4320,"v":12200},{"c":"4","t":4560,"v":11500},{"c":"4","t":4800,"v":10800},{"c":"4","t":5040,"v":10200},{"c":"4","t":5280,"v":9600},{"c":"4","t":5520,"v":9100},{"c":"4","t":5760,"v":8700},{"c":"4","t":6000,"v":8300},{"c":"4","t":6240,"v":7900},{"c":"4","t":6480,"v":7500},{"c":"4","t":6720,"v":7200},{"c":"4","t":6960,"v":6900},{"c":"4","t":7200,"v":6600}
],
"D":[
{"c":"0","t":0,"v":9800},{"c":"0","t":240,"v":7800},{"c":"0","t":480,"v":6300},{"c":"0","t":720,"v":5500},{"c":"0","t":960,"v":5000},{"c":"0","t":1200,"v":4700},{"c":"0","t":1440,"v":4500},{"c":"0","t":1680,"v":4300},{"c":"0","t":1920,"v":4150},{"c":"0","t":2160,"v":4000},{"c":"0","t":2400,"v":3900},{"c":"0","t":2640,"v":3800},{"c":"0","t":2880,"v":3700},{"c":"0","t":3120,"v":3600},{"c":"0","t":3360,"v":3500},{"c":"0","t":3600,"v":3400},{"c":"0","t":3840,"v":3300},{"c":"0","t":4080,"v":3200},{"c":"0","t":4320,"v":3100},{"c":"0","t":4560,"v":3050},{"c":"0","t":4800,"v":3000},{"c":"0","t":5040,"v":2900},{"c":"0","t":5280,"v":2850},{"c":"0","t":5520,"v":2800},{"c":"0","t":5760,"v":2700},{"c":"0","t":6000,"v":2650},{"c":"0","t":6240,"v":2600},{"c":"0","t":6480,"v":2550},{"c":"0","t":6720,"v":2500},{"c":"0","t":6960,"v":2450},{"c":"0","t":7200,"v":2400},
{"c":"10","t":0,"v":9900},{"c":"10","t":240,"v":7900},{"c":"10","t":480,"v":6400},{"c":"10","t":720,"v":5600},{"c":"10","t":960,"v":5100},{"c":"10","t":1200,"v":4800},{"c":"10","t":1440,"v":4600},{"c":"10","t":1680,"v":4400},{"c":"10","t":1920,"v":4250},{"c":"10","t":2160,"v":4100},{"c":"10","t":2400,"v":4000},{"c":"10","t":2640,"v":3900},{"c":"10","t":2880,"v":3800},{"c":"10","t":3120,"v":3700},{"c":"10","t":3360,"v":3600},{"c":"10","t":3600,"v":3500},{"c":"10","t":3840,"v":3400},{"c":"10","t":4080,"v":3300},{"c":"10","t":4320,"v":3200},{"c":"10","t":4560,"v":3150},{"c":"10","t":4800,"v":3100},{"c":"10","t":5040,"v":3000},{"c":"10","t":5280,"v":2950},{"c":"10","t":5520,"v":2900},{"c":"10","t":5760,"v":2800},{"c":"10","t":6000,"v":2750},{"c":"10","t":6240,"v":2700},{"c":"10","t":6480,"v":2650},{"c":"10","t":6720,"v":2600},{"c":"10","t":6960,"v":2550},{"c":"10","t":7200,"v":2500},
{"c":"9","t":0,"v":9700},{"c":"9","t":240,"v":7700},{"c":"9","t":480,"v":6200},{"c":"9","t":720,"v":5400},{"c":"9","t":960,"v":4900},{"c":"9","t":1200,"v":4600},{"c":"9","t":1440,"v":4400},{"c":"9","t":1680,"v":4200},{"c":"9","t":1920,"v":4050},{"c":"9","t":2160,"v":3900},{"c":"9","t":2400,"v":3800},{"c":"9","t":2640,"v":3700},{"c":"9","t":2880,"v":3600},{"c":"9","t":3120,"v":3500},{"c":"9","t":3360,"v":3400},{"c":"9","t":3600,"v":3300},{"c":"9","t":3840,"v":3200},{"c":"9","t":4080,"v":3100},{"c":"9","t":4320,"v":3000},{"c":"9","t":4560,"v":2950},{"c":"9","t":4800,"v":2900},{"c":"9","t":5040,"v":2800},{"c":"9","t":5280,"v":2750},{"c":"9","t":5520,"v":2700},{"c":"9","t":5760,"v":2600},{"c":"9","t":6000,"v":2550},{"c":"9","t":6240,"v":2500},{"c":"9","t":6480,"v":2450},{"c":"9","t":6720,"v":2400},{"c":"9","t":6960,"v":2350},{"c":"9","t":7200,"v":2300},
{"c":"8","t":0,"v":10000},{"c":"8","t":240,"v":8000},{"c":"8","t":480,"v":6500},{"c":"8","t":720,"v":5700},{"c":"8","t":960,"v":5200},{"c":"8","t":1200,"v":4900},{"c":"8","t":1440,"v":4700},{"c":"8","t":1680,"v":4500},{"c":"8","t":1920,"v":4350},{"c":"8","t":2160,"v":4200},{"c":"8","t":2400,"v":4100},{"c":"8","t":2640,"v":4000},{"c":"8","t":2880,"v":3900},{"c":"8","t":3120,"v":3800},{"c":"8","t":3360,"v":3700},{"c":"8","t":3600,"v":3600},{"c":"8","t":3840,"v":3500},{"c":"8","t":4080,"v":3400},{"c":"8","t":4320,"v":3300},{"c":"8","t":4560,"v":3250},{"c":"8","t":4800,"v":3200},{"c":"8","t":5040,"v":3100},{"c":"8","t":5280,"v":3050},{"c":"8","t":5520,"v":3000},{"c":"8","t":5760,"v":2900},{"c":"8","t":6000,"v":2850},{"c":"8","t":6240,"v":2800},{"c":"8","t":6480,"v":2750},{"c":"8","t":6720,"v":2700},{"c":"8","t":6960,"v":2650},{"c":"8","t":7200,"v":2600},
{"c":"7b","t":0,"v":9800},{"c":"7b","t":240,"v":8300},{"c":"7b","t":480,"v":7300},{"c":"7b","t":720,"v":7500},{"c":"7b","t":960,"v":8200},{"c":"7b","t":1200,"v":8800},{"c":"7b","t":1440,"v":9200},{"c":"7b","t":1680,"v":9400},{"c":"7b","t":1920,"v":9600},{"c":"7b","t":2160,"v":9700},{"c":"7b","t":2400,"v":9700},{"c":"7b","t":2640,"v":9600},{"c":"7b","t":2880,"v":9400},{"c":"7b","t":3120,"v":9200},{"c":"7b","t":3360,"v":9000},{"c":"7b","t":3600,"v":8800},{"c":"7b","t":3840,"v":8500},{"c":"7b","t":4080,"v":8200},{"c":"7b","t":4320,"v":7900},{"c":"7b","t":4560,"v":7600},{"c":"7b","t":4800,"v":7300},{"c":"7b","t":5040,"v":7000},{"c":"7b","t":5280,"v":6800},{"c":"7b","t":5520,"v":6600},{"c":"7b","t":5760,"v":6400},{"c":"7b","t":6000,"v":6200},{"c":"7b","t":6240,"v":6000},{"c":"7b","t":6480,"v":5800},{"c":"7b","t":6720,"v":5600},{"c":"7b","t":6960,"v":5400},{"c":"7b","t":7200,"v":5200},
{"c":"7","t":0,"v":10000},{"c":"7","t":240,"v":8500},{"c":"7","t":480,"v":7500},{"c":"7","t":720,"v":7800},{"c":"7","t":960,"v":8500},{"c":"7","t":1200,"v":9000},{"c":"7","t":1440,"v":9400},{"c":"7","t":1680,"v":9600},{"c":"7","t":1920,"v":9800},{"c":"7","t":2160,"v":9900},{"c":"7","t":2400,"v":9900},{"c":"7","t":2640,"v":9800},{"c":"7","t":2880,"v":9600},{"c":"7","t":3120,"v":9400},{"c":"7","t":3360,"v":9200},{"c":"7","t":3600,"v":9000},{"c":"7","t":3840,"v":8700},{"c":"7","t":4080,"v":8400},{"c":"7","t":4320,"v":8100},{"c":"7","t":4560,"v":7800},{"c":"7","t":4800,"v":7500},{"c":"7","t":5040,"v":7200},{"c":"7","t":5280,"v":6900},{"c":"7","t":5520,"v":6700},{"c":"7","t":5760,"v":6500},{"c":"7","t":6000,"v":6300},{"c":"7","t":6240,"v":6100},{"c":"7","t":6480,"v":5900},{"c":"7","t":6720,"v":5700},{"c":"7","t":6960,"v":5500},{"c":"7","t":7200,"v":5300},
{"c":"6b","t":0,"v":10000},{"c":"6b","t":240,"v":8800},{"c":"6b","t":480,"v":8500},{"c":"6b","t":720,"v":13000},{"c":"6b","t":960,"v":19000},{"c":"6b","t":1200,"v":23500},{"c":"6b","t":1440,"v":26200},{"c":"6b","t":1680,"v":27500},{"c":"6b","t":1920,"v":28000},{"c":"6b","t":2160,"v":28000},{"c":"6b","t":2400,"v":27600},{"c":"6b","t":2640,"v":27000},{"c":"6b","t":2880,"v":26300},{"c":"6b","t":3120,"v":25500},{"c":"6b","t":3360,"v":24600},{"c":"6b","t":3600,"v":23700},{"c":"6b","t":3840,"v":22800},{"c":"6b","t":4080,"v":21900},{"c":"6b","t":4320,"v":21000},{"c":"6b","t":4560,"v":20100},{"c":"6b","t":4800,"v":19300},{"c":"6b","t":5040,"v":18500},{"c":"6b","t":5280,"v":17700},{"c":"6b","t":5520,"v":16900},{"c":"6b","t":5760,"v":16200},{"c":"6b","t":6000,"v":15500},{"c":"6b","t":6240,"v":14800},{"c":"6b","t":6480,"v":14100},{"c":"6b","t":6720,"v":13500},{"c":"6b","t":6960,"v":12900},{"c":"6b","t":7200,"v":12300},
{"c":"6","t":0,"v":10000},{"c":"6","t":240,"v":9000},{"c":"6","t":480,"v":9500},{"c":"6","t":720,"v":17000},{"c":"6","t":960,"v":24000},{"c":"6","t":1200,"v":28000},{"c":"6","t":1440,"v":30000},{"c":"6","t":1680,"v":30800},{"c":"6","t":1920,"v":31000},{"c":"6","t":2160,"v":31200},{"c":"6","t":2400,"v":31000},{"c":"6","t":2640,"v":30600},{"c":"6","t":2880,"v":30000},{"c":"6","t":3120,"v":29200},{"c":"6","t":3360,"v":28300},{"c":"6","t":3600,"v":27400},{"c":"6","t":3840,"v":26500},{"c":"6","t":4080,"v":25600},{"c":"6","t":4320,"v":24700},{"c":"6","t":4560,"v":23800},{"c":"6","t":4800,"v":22900},{"c":"6","t":5040,"v":22000},{"c":"6","t":5280,"v":21100},{"c":"6","t":5520,"v":20200},{"c":"6","t":5760,"v":19300},{"c":"6","t":6000,"v":18400},{"c":"6","t":6240,"v":17600},{"c":"6","t":6480,"v":16800},{"c":"6","t":6720,"v":16000},{"c":"6","t":6960,"v":15200},{"c":"6","t":7200,"v":14400},
{"c":"5b","t":0,"v":10000},{"c":"5b","t":240,"v":9000},{"c":"5b","t":480,"v":13000},{"c":"5b","t":720,"v":24000},{"c":"5b","t":960,"v":31000},{"c":"5b","t":1200,"v":34000},{"c":"5b","t":1440,"v":34500},{"c":"5b","t":1680,"v":34000},{"c":"5b","t":1920,"v":32800},{"c":"5b","t":2160,"v":31300},{"c":"5b","t":2400,"v":29700},{"c":"5b","t":2640,"v":28200},{"c":"5b","t":2880,"v":26700},{"c":"5b","t":3120,"v":25300},{"c":"5b","t":3360,"v":24000},{"c":"5b","t":3600,"v":22800},{"c":"5b","t":3840,"v":21600},{"c":"5b","t":4080,"v":20500},{"c":"5b","t":4320,"v":19500},{"c":"5b","t":4560,"v":18500},{"c":"5b","t":4800,"v":17500},{"c":"5b","t":5040,"v":16600},{"c":"5b","t":5280,"v":15700},{"c":"5b","t":5520,"v":14900},{"c":"5b","t":5760,"v":14100},{"c":"5b","t":6000,"v":13400},{"c":"5b","t":6240,"v":12700},{"c":"5b","t":6480,"v":12000},{"c":"5b","t":6720,"v":11400},{"c":"5b","t":6960,"v":10800},{"c":"5b","t":7200,"v":10200},
{"c":"5","t":0,"v":10000},{"c":"5","t":240,"v":9500},{"c":"5","t":480,"v":16000},{"c":"5","t":720,"v":28000},{"c":"5","t":960,"v":34000},{"c":"5","t":1200,"v":36500},{"c":"5","t":1440,"v":37000},{"c":"5","t":1680,"v":36000},{"c":"5","t":1920,"v":34300},{"c":"5","t":2160,"v":32500},{"c":"5","t":2400,"v":30700},{"c":"5","t":2640,"v":29000},{"c":"5","t":2880,"v":27400},{"c":"5","t":3120,"v":25900},{"c":"5","t":3360,"v":24500},{"c":"5","t":3600,"v":23200},{"c":"5","t":3840,"v":22000},{"c":"5","t":4080,"v":20900},{"c":"5","t":4320,"v":19800},{"c":"5","t":4560,"v":18800},{"c":"5","t":4800,"v":17800},{"c":"5","t":5040,"v":16900},{"c":"5","t":5280,"v":16000},{"c":"5","t":5520,"v":15200},{"c":"5","t":5760,"v":14400},{"c":"5","t":6000,"v":13700},{"c":"5","t":6240,"v":13000},{"c":"5","t":6480,"v":12300},{"c":"5","t":6720,"v":11700},{"c":"5","t":6960,"v":11100},{"c":"5","t":7200,"v":10500},
{"c":"4b","t":0,"v":10000},{"c":"4b","t":240,"v":9800},{"c":"4b","t":480,"v":19000},{"c":"4b","t":720,"v":31000},{"c":"4b","t":960,"v":36500},{"c":"4b","t":1200,"v":38000},{"c":"4b","t":1440,"v":37500},{"c":"4b","t":1680,"v":35800},{"c":"4b","t":1920,"v":33800},{"c":"4b","t":2160,"v":31700},{"c":"4b","t":2400,"v":29700},{"c":"4b","t":2640,"v":27800},{"c":"4b","t":2880,"v":26000},{"c":"4b","t":3120,"v":24400},{"c":"4b","t":3360,"v":22900},{"c":"4b","t":3600,"v":21500},{"c":"4b","t":3840,"v":20300},{"c":"4b","t":4080,"v":19100},{"c":"4b","t":4320,"v":18000},{"c":"4b","t":4560,"v":17000},{"c":"4b","t":4800,"v":16100},{"c":"4b","t":5040,"v":15200},{"c":"4b","t":5280,"v":14400},{"c":"4b","t":5520,"v":13600},{"c":"4b","t":5760,"v":12900},{"c":"4b","t":6000,"v":12200},{"c":"4b","t":6240,"v":11500},{"c":"4b","t":6480,"v":10900},{"c":"4b","t":6720,"v":10300},{"c":"4b","t":6960,"v":9700},{"c":"4b","t":7200,"v":9200},
{"c":"4","t":0,"v":9800},{"c":"4","t":240,"v":10400},{"c":"4","t":480,"v":25000},{"c":"4","t":720,"v":35500},{"c":"4","t":960,"v":39500},{"c":"4","t":1200,"v":39800},{"c":"4","t":1440,"v":38500},{"c":"4","t":1680,"v":37000},{"c":"4","t":1920,"v":34800},{"c":"4","t":2160,"v":32500},{"c":"4","t":2400,"v":30300},{"c":"4","t":2640,"v":28300},{"c":"4","t":2880,"v":26500},{"c":"4","t":3120,"v":24900},{"c":"4","t":3360,"v":23500},{"c":"4","t":3600,"v":22200},{"c":"4","t":3840,"v":21000},{"c":"4","t":4080,"v":19900},{"c":"4","t":4320,"v":18800},{"c":"4","t":4560,"v":17800},{"c":"4","t":4800,"v":16900},{"c":"4","t":5040,"v":16000},{"c":"4","t":5280,"v":15200},{"c":"4","t":5520,"v":14400},{"c":"4","t":5760,"v":13700},{"c":"4","t":6000,"v":13000},{"c":"4","t":6240,"v":12300},{"c":"4","t":6480,"v":11600},{"c":"4","t":6720,"v":11000},{"c":"4","t":6960,"v":10400},{"c":"4","t":7200,"v":9800}
]
},
"bounds":"flush",
"columns":3,
"spacing":{"row":182,"column":159},
"resolve":{"scale":{"shape":"independent","x":"independent","y":"independent"}},
"concat":[
{"title":"Cumyl-PEGACLONE","width":374,"height":249,"data":{"name":"A"},
"encoding":{
"x":{"field":"t","type":"quantitative","scale":{"domain":[0,8000],"nice":false},"axis":{"title":"Time (s)","values":[0,2000,4000,6000,8000],"format":"d","titleFontSize":20,"labelPadding":4,"titlePadding":14}},
"y":{"field":"v","type":"quantitative","scale":{"domain":[0,500000]},"axis":{"title":"Luminescence (RLU)","values":[0,100000,200000,300000,400000,500000],"format":"d","titlePadding":15}},
"color":{"field":"c","type":"nominal","legend":null,"scale":{"domain":["7","7b","8","8b","9","9b","10","10b","11","12","13","0","4","4b","5","5b","6","6b"],"range":["#1b1b7e","#1b1b7e","#2233f2","#2233f2","#5aa8f8","#5aa8f8","#7a2d9c","#7a2d9c","#b22ee0","#e59af0","#f07ca8","#111111","#16651a","#16651a","#25c12a","#25c12a","#52e8b4","#52e8b4"]}}},
"layer":[
{"mark":{"type":"line","strokeWidth":1.6}},
{"mark":{"type":"point","filled":true,"size":24,"opacity":1},"encoding":{"shape":{"field":"c","type":"nominal","legend":null,"scale":{"domain":["7","7b","8","8b","9","9b","10","10b","11","12","13","0"],"range":["circle","circle","square","square","triangle-up","triangle-up","triangle-down","triangle-down","diamond","square","circle","circle"]}}}}
]},
{"title":"5F-Cumyl-PEGACLONE","width":374,"height":249,"data":{"name":"B"},
"encoding":{
"x":{"field":"t","type":"quantitative","scale":{"domain":[0,8000],"nice":false},"axis":{"title":"Time (s)","values":[0,2000,4000,6000,8000],"format":"d","titleFontSize":20,"labelPadding":4,"titlePadding":14}},
"y":{"field":"v","type":"quantitative","scale":{"domain":[0,500000]},"axis":{"title":"Luminescence (RLU)","values":[0,100000,200000,300000,400000,500000],"format":"d","titlePadding":15}},
"color":{"field":"c","type":"nominal","legend":null,"scale":{"domain":["7","7b","8","8b","9","9b","10","10b","11","12","13","0","4","4b","5","5b","6","6b"],"range":["#1b1b7e","#1b1b7e","#2233f2","#2233f2","#5aa8f8","#5aa8f8","#7a2d9c","#7a2d9c","#b22ee0","#e59af0","#f07ca8","#111111","#16651a","#16651a","#25c12a","#25c12a","#52e8b4","#52e8b4"]}}},
"layer":[
{"mark":{"type":"line","strokeWidth":1.6}},
{"mark":{"type":"point","filled":true,"size":24,"opacity":1},"encoding":{"shape":{"field":"c","type":"nominal","legend":null,"scale":{"domain":["7","7b","8","8b","9","9b","10","10b","11","12","13","0"],"range":["circle","circle","square","square","triangle-up","triangle-up","triangle-down","triangle-down","diamond","square","circle","circle"]}}}}
]},
{"width":10,"height":249,"data":{"name":"L1"},
"encoding":{"y":{"field":"o","type":"ordinal","axis":null,"scale":{"type":"point","range":[-38,248],"padding":0}}},
"layer":[
{"mark":{"type":"rule","strokeWidth":1.5},"encoding":{"x":{"datum":0,"type":"quantitative","axis":null,"scale":{"domain":[0,100],"range":[-100,0]}},"x2":{"datum":27},
"color":{"field":"c","type":"nominal","legend":null,"scale":{"domain":["7","7b","8","8b","9","9b","10","10b","11","12","13","0","4","4b","5","5b","6","6b"],"range":["#1b1b7e","#1b1b7e","#2233f2","#2233f2","#5aa8f8","#5aa8f8","#7a2d9c","#7a2d9c","#b22ee0","#e59af0","#f07ca8","#111111","#16651a","#16651a","#25c12a","#25c12a","#52e8b4","#52e8b4"]}}}},
{"mark":{"type":"point","filled":true,"size":28,"opacity":1},"encoding":{"x":{"datum":14,"type":"quantitative"},
"color":{"field":"c","type":"nominal","legend":null,"scale":{"domain":["7","7b","8","8b","9","9b","10","10b","11","12","13","0","4","4b","5","5b","6","6b"],"range":["#1b1b7e","#1b1b7e","#2233f2","#2233f2","#5aa8f8","#5aa8f8","#7a2d9c","#7a2d9c","#b22ee0","#e59af0","#f07ca8","#111111","#16651a","#16651a","#25c12a","#25c12a","#52e8b4","#52e8b4"]}},
"shape":{"field":"c","type":"nominal","legend":null,"scale":{"domain":["7","7b","8","8b","9","9b","10","10b","11","12","13","0"],"range":["circle","circle","square","square","triangle-up","triangle-up","triangle-down","triangle-down","diamond","square","circle","circle"]}}}},
{"mark":{"type":"text","align":"left","baseline":"middle","fontSize":17,"font":"DejaVu Sans","color":"#111"},"encoding":{"x":{"datum":44,"type":"quantitative"},"text":{"field":"lab"}}}
]},
{"title":{"text":["Cumyl-PEGACLONE","ethylbenzyl isomer"],"offset":18},"width":374,"height":249,"data":{"name":"C"},
"resolve":{"scale":{"x":"independent","y":"independent"}},
"layer":[
{"encoding":{
"x":{"field":"t","type":"quantitative","scale":{"domain":[0,8000],"nice":false},"axis":{"title":"Time (s)","values":[0,2000,4000,6000,8000],"format":"d","titleFontSize":20,"labelPadding":4,"titlePadding":14}},
"y":{"field":"v","type":"quantitative","scale":{"domain":[0,500000]},"axis":{"title":"Luminescence (RLU)","values":[0,100000,200000,300000,400000,500000],"format":"d","titlePadding":15}},
"color":{"field":"c","type":"nominal","legend":null,"scale":{"domain":["7","7b","8","8b","9","9b","10","10b","11","12","13","0","4","4b","5","5b","6","6b"],"range":["#1b1b7e","#1b1b7e","#2233f2","#2233f2","#5aa8f8","#5aa8f8","#7a2d9c","#7a2d9c","#b22ee0","#e59af0","#f07ca8","#111111","#16651a","#16651a","#25c12a","#25c12a","#52e8b4","#52e8b4"]}}},
"layer":[
{"mark":{"type":"line","strokeWidth":1.6}},
{"mark":{"type":"point","filled":true,"size":24,"opacity":1},"encoding":{"shape":{"field":"c","type":"nominal","legend":null,"scale":{"domain":["4","4b","5","5b","6","6b","7","7b","8","9","10","0"],"range":["circle","circle","square","square","triangle-up","triangle-up","triangle-down","triangle-down","diamond","circle","diamond","circle"]}}}}
]},
{"encoding":{
"x":{"field":"t","type":"quantitative","scale":{"domain":[0,8000],"nice":false,"range":[171,360]},"axis":{"title":null,"orient":"bottom","offset":-105,"values":[0,2000,4000,6000,8000],"format":"d","labelFontSize":13,"domainWidth":1.5,"tickWidth":1.5,"tickSize":5,"labelPadding":2}},
"y":{"field":"v","type":"quantitative","scale":{"domain":[0,40000],"range":[144,18]},"axis":{"title":null,"orient":"left","offset":-171,"values":[0,10000,20000,30000,40000],"format":"d","labelFontSize":13,"domainWidth":1.5,"tickWidth":1.5,"tickSize":5,"labelPadding":2}},
"color":{"field":"c","type":"nominal","legend":null,"scale":{"domain":["7","7b","8","8b","9","9b","10","10b","11","12","13","0","4","4b","5","5b","6","6b"],"range":["#1b1b7e","#1b1b7e","#2233f2","#2233f2","#5aa8f8","#5aa8f8","#7a2d9c","#7a2d9c","#b22ee0","#e59af0","#f07ca8","#111111","#16651a","#16651a","#25c12a","#25c12a","#52e8b4","#52e8b4"]}}},
"layer":[
{"mark":{"type":"line","strokeWidth":1}},
{"mark":{"type":"point","filled":true,"size":7,"opacity":1},"encoding":{"shape":{"field":"c","type":"nominal","legend":null,"scale":{"domain":["4","4b","5","5b","6","6b","7","7b","8","9","10","0"],"range":["circle","circle","square","square","triangle-up","triangle-up","triangle-down","triangle-down","diamond","circle","diamond","circle"]}}}}
]}
]},
{"title":{"text":["Cumyl-PEGACLONE","n-propylphenyl isomer"],"offset":18},"width":374,"height":249,"data":{"name":"D"},
"resolve":{"scale":{"x":"independent","y":"independent"}},
"layer":[
{"encoding":{
"x":{"field":"t","type":"quantitative","scale":{"domain":[0,8000],"nice":false},"axis":{"title":"Time (s)","values":[0,2000,4000,6000,8000],"format":"d","titleFontSize":20,"labelPadding":4,"titlePadding":14}},
"y":{"field":"v","type":"quantitative","scale":{"domain":[0,500000]},"axis":{"title":"Luminescence (RLU)","values":[0,100000,200000,300000,400000,500000],"format":"d","titlePadding":15}},
"color":{"field":"c","type":"nominal","legend":null,"scale":{"domain":["7","7b","8","8b","9","9b","10","10b","11","12","13","0","4","4b","5","5b","6","6b"],"range":["#1b1b7e","#1b1b7e","#2233f2","#2233f2","#5aa8f8","#5aa8f8","#7a2d9c","#7a2d9c","#b22ee0","#e59af0","#f07ca8","#111111","#16651a","#16651a","#25c12a","#25c12a","#52e8b4","#52e8b4"]}}},
"layer":[
{"mark":{"type":"line","strokeWidth":1.6}},
{"mark":{"type":"point","filled":true,"size":24,"opacity":1},"encoding":{"shape":{"field":"c","type":"nominal","legend":null,"scale":{"domain":["4","4b","5","5b","6","6b","7","7b","8","9","10","0"],"range":["circle","circle","square","square","triangle-up","triangle-up","triangle-down","triangle-down","diamond","circle","diamond","circle"]}}}}
]},
{"encoding":{
"x":{"field":"t","type":"quantitative","scale":{"domain":[0,8000],"nice":false,"range":[171,359]},"axis":{"title":null,"orient":"bottom","offset":-105,"values":[0,2000,4000,6000,8000],"format":"d","labelFontSize":13,"domainWidth":1.5,"tickWidth":1.5,"tickSize":5,"labelPadding":2}},
"y":{"field":"v","type":"quantitative","scale":{"domain":[0,40000],"range":[144,18]},"axis":{"title":null,"orient":"left","offset":-171,"values":[0,10000,20000,30000,40000],"format":"d","labelFontSize":13,"domainWidth":1.5,"tickWidth":1.5,"tickSize":5,"labelPadding":2}},
"color":{"field":"c","type":"nominal","legend":null,"scale":{"domain":["7","7b","8","8b","9","9b","10","10b","11","12","13","0","4","4b","5","5b","6","6b"],"range":["#1b1b7e","#1b1b7e","#2233f2","#2233f2","#5aa8f8","#5aa8f8","#7a2d9c","#7a2d9c","#b22ee0","#e59af0","#f07ca8","#111111","#16651a","#16651a","#25c12a","#25c12a","#52e8b4","#52e8b4"]}}},
"layer":[
{"mark":{"type":"line","strokeWidth":1}},
{"mark":{"type":"point","filled":true,"size":7,"opacity":1},"encoding":{"shape":{"field":"c","type":"nominal","legend":null,"scale":{"domain":["4","4b","5","5b","6","6b","7","7b","8","9","10","0"],"range":["circle","circle","square","square","triangle-up","triangle-up","triangle-down","triangle-down","diamond","circle","diamond","circle"]}}}}
]}
]},
{"width":10,"height":249,"data":{"name":"L2"},
"encoding":{"y":{"field":"o","type":"ordinal","axis":null,"scale":{"type":"point","range":[-38,247],"padding":0}}},
"layer":[
{"mark":{"type":"rule","strokeWidth":1.5},"encoding":{"x":{"datum":0,"type":"quantitative","axis":null,"scale":{"domain":[0,100],"range":[-102,-2]}},"x2":{"datum":27},
"color":{"field":"c","type":"nominal","legend":null,"scale":{"domain":["7","7b","8","8b","9","9b","10","10b","11","12","13","0","4","4b","5","5b","6","6b"],"range":["#1b1b7e","#1b1b7e","#2233f2","#2233f2","#5aa8f8","#5aa8f8","#7a2d9c","#7a2d9c","#b22ee0","#e59af0","#f07ca8","#111111","#16651a","#16651a","#25c12a","#25c12a","#52e8b4","#52e8b4"]}}}},
{"mark":{"type":"point","filled":true,"size":28,"opacity":1},"encoding":{"x":{"datum":14,"type":"quantitative"},
"color":{"field":"c","type":"nominal","legend":null,"scale":{"domain":["7","7b","8","8b","9","9b","10","10b","11","12","13","0","4","4b","5","5b","6","6b"],"range":["#1b1b7e","#1b1b7e","#2233f2","#2233f2","#5aa8f8","#5aa8f8","#7a2d9c","#7a2d9c","#b22ee0","#e59af0","#f07ca8","#111111","#16651a","#16651a","#25c12a","#25c12a","#52e8b4","#52e8b4"]}},
"shape":{"field":"c","type":"nominal","legend":null,"scale":{"domain":["4","4b","5","5b","6","6b","7","7b","8","9","10","0"],"range":["circle","circle","square","square","triangle-up","triangle-up","triangle-down","triangle-down","diamond","circle","diamond","circle"]}}}},
{"mark":{"type":"text","align":"left","baseline":"middle","fontSize":17,"font":"DejaVu Sans","color":"#111"},"encoding":{"x":{"datum":42,"type":"quantitative"},"text":{"field":"lab"}}}
]}
]
}
